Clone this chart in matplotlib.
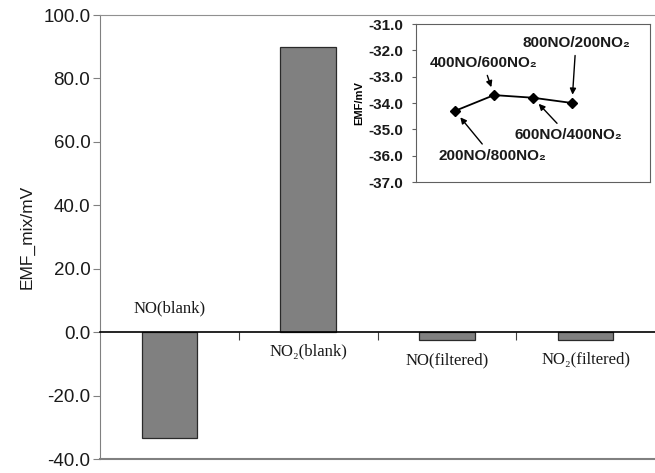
import matplotlib
matplotlib.use("Agg")
import matplotlib.pyplot as plt

# main chart
categories = ["NO(blank)", "NO₂(blank)", "NO(filtered)", "NO₂(filtered)"]
emf_mix = [-33.5, 90.0, -2.5, -2.5]

# inset
mix_labels = ["200NO/800NO₂", "400NO/600NO₂", "600NO/400NO₂", "800NO/200NO₂"]
mix_emf = [-34.3, -33.7, -33.8, -34.0]

plt.rcParams["font.family"] = ["Liberation Sans", "DejaVu Sans"]

fig = plt.figure(figsize=(6.55, 4.73), dpi=100)
ax = fig.add_axes([100/655, 14/473, 555/655, 444/473])

x = list(range(len(categories)))
ax.bar(x, emf_mix, width=0.4, color="#808080", edgecolor="#2a2a2a", linewidth=0.9, zorder=2)

ax.set_xlim(-0.5, 3.5)
ax.set_ylim(-40, 100)
ax.set_yticks(range(-40, 101, 20))
ax.set_yticklabels([f"{v:.1f}" for v in range(-40, 101, 20)], fontsize=13.5, color="#1a1a1a")
ax.tick_params(axis="y", direction="out", length=5, color="#808080", pad=2)
ax.set_ylabel("EMF_mix/mV", fontsize=12.5, color="#1a1a1a", labelpad=6)

# x axis sits on zero, frame around the rest
ax.spines["bottom"].set_position(("data", 0))
ax.spines["bottom"].set_color("black")
ax.spines["bottom"].set_linewidth(1.2)
ax.spines["left"].set_color("#808080")
ax.spines["top"].set_color("#909090")
ax.spines["right"].set_visible(False)
ax.axhline(-40, color="#808080", lw=1.5, clip_on=False)
ax.set_xticks([0.5, 1.5, 2.5])
ax.set_xticklabels([])
ax.tick_params(axis="x", direction="out", length=6, color="#404040")

label_y = [7.5, -6.0, -8.8, -8.5]
for i, (lab, ly) in enumerate(zip(categories, label_y)):
    ax.text(i, ly, lab, ha="center", va="center", fontsize=12,
            family=["Liberation Serif", "DejaVu Serif"], color="#1a1a1a")

# inset
ins = fig.add_axes([416/655, 291/473, 234/655, 158/473])
ins.plot(range(1, 5), mix_emf, color="black", lw=1.3, marker="D", markersize=5)
ins.set_xlim(0, 6)
ins.set_ylim(-37, -31)
ins.set_xticks([])
ins.set_yticks(range(-37, -30))
ins.set_yticklabels([f"{v:.1f}" for v in range(-37, -30)], fontsize=11,
                    fontweight="bold", color="#1a1a1a")
ins.tick_params(axis="y", direction="out", length=3, color="#606060", pad=6)
ins.set_ylabel("EMF/mV", fontsize=8, fontweight="bold", labelpad=3)
for s in ins.spines.values():
    s.set_color("#606060")

text_pos = [(1.95, -36.01), (1.72, -32.48), (3.9, -35.22), (4.1, -31.72)]
for i, (lab, pos) in enumerate(zip(mix_labels, text_pos)):
    ins.annotate(lab, xy=(i + 1, mix_emf[i]), xytext=pos, ha="center", va="center",
                 fontsize=11, fontweight="bold", color="#1a1a1a",
                 arrowprops=dict(arrowstyle="-|>", color="black", lw=1,
                                 mutation_scale=9, shrinkA=2, shrinkB=6))

fig.savefig("out.png", dpi=100)
